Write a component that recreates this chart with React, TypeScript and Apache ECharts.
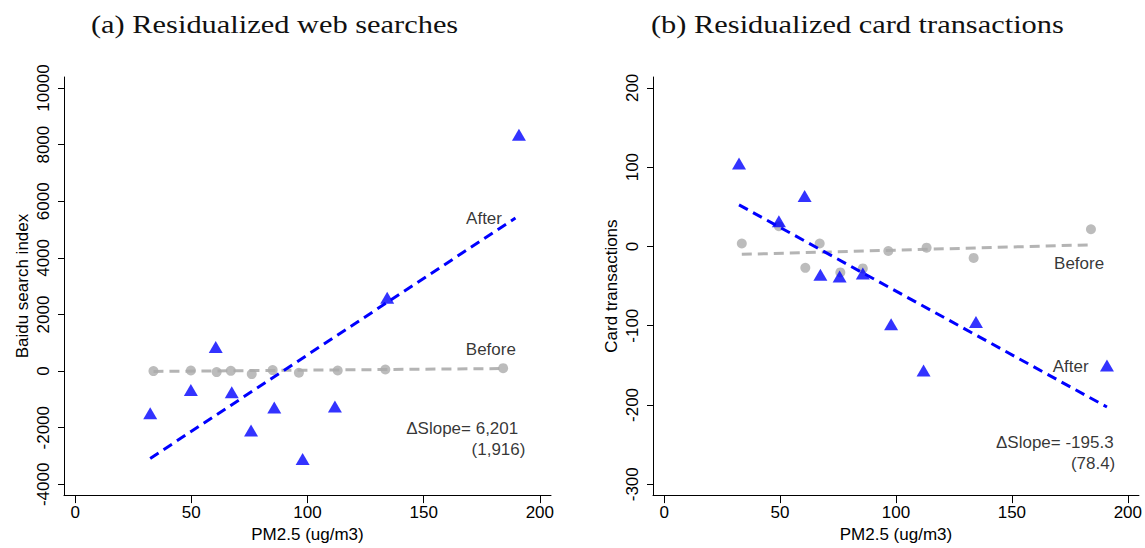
import React, { useEffect, useRef } from "react";
import * as echarts from "echarts";

// Panel (a): residualized web searches
const webBefore: [number, number][] = [
  [33.7, 0], [49.8, 21], [60.9, -35], [67.0, 10], [76.0, -105],
  [85.0, 35], [96.3, -59], [113.0, 21], [133.5, 56], [184.2, 105],
];
const webAfter: [number, number][] = [
  [32.3, -1490], [49.8, -663], [60.5, 848], [67.4, -747], [75.7, -2094],
  [85.7, -1281], [97.9, -3106], [111.8, -1246], [134.3, 2593], [191.0, 8353],
];
const webBeforeFit: [number, number][] = [[33.7, -10], [184.2, 90]];
const webAfterFit: [number, number][] = [[32.3, -3085], [189.5, 5410]];
const webNotes = [
  { name: "After", value: [183.7, 5400] },
  { name: "Before", value: [189.7, 760] },
  { name: "\u0394Slope= 6,201", value: [190.7, -2024] },
  { name: "(1,916)", value: [193.8, -2757] },
];

// Panel (b): residualized card transactions
const cardBefore: [number, number][] = [
  [33.5, 3.7], [49.5, 25.5], [60.9, -27], [67.1, 3.7], [76.0, -32.8],
  [85.7, -27.8], [96.7, -5.8], [113.2, -1.6], [133.5, -14.5], [184.1, 21.7],
];
const cardAfter: [number, number][] = [
  [32.3, 104.5], [49.5, 31.7], [60.6, 63.7], [67.4, -35.7], [75.7, -37.8],
  [85.7, -34.1], [97.9, -98.1], [111.9, -156.4], [134.5, -95.3], [191.0, -150.2],
];
const cardBeforeFit: [number, number][] = [[33.5, -10], [184.1, 2]];
const cardAfterFit: [number, number][] = [[32.3, 52.4], [191.0, -202.6]];
const cardNotes = [
  { name: "Before", value: [189.8, -22] },
  { name: "After", value: [183.1, -152] },
  { name: "\u0394Slope= -195.3", value: [193.9, -247.2] },
  { name: "(78.4)", value: [194.6, -274.2] },
];

const xTicks = [0, 50, 100, 150, 200];
const webYTicks = [-4000, -2000, 0, 2000, 4000, 6000, 8000, 10000];
const cardYTicks = [-300, -200, -100, 0, 100, 200];

const titles = ["(a) Residualized web searches", "(b) Residualized card transactions"];
const xName = "PM2.5 (ug/m3)";
const yNames = ["Baidu search index", "Card transactions"];

const FONT = '"Liberation Sans", Arial, sans-serif';
const GRAY_PT = "#ababab";
const GRAY_LN = "#b4b4b4";
const BLUE = "#0000ff";

const plain = (v: number) => String(v);

function xAxis(gridIndex: number) {
  return {
    type: "value",
    gridIndex,
    min: -4.8,
    max: 204.8,
    name: xName,
    nameLocation: "middle",
    nameGap: 29,
    nameTextStyle: { fontFamily: FONT, fontSize: 17, color: "#000" },
    axisLine: { show: true, onZero: false, lineStyle: { color: "#000", width: 1 } },
    axisTick: { show: true, length: 8, customValues: xTicks, lineStyle: { color: "#000" } },
    axisLabel: { show: true, customValues: xTicks, formatter: plain, margin: 9, fontFamily: FONT, fontSize: 17, color: "#000" },
    splitLine: { show: false },
  };
}

function yAxis(gridIndex: number, min: number, max: number, ticks: number[], name: string) {
  return {
    type: "value",
    gridIndex,
    min,
    max,
    name,
    nameLocation: "middle",
    nameGap: 33,
    nameTextStyle: { fontFamily: FONT, fontSize: 17, color: "#000" },
    axisLine: { show: true, onZero: false, lineStyle: { color: "#000", width: 1 } },
    axisTick: { show: true, length: 6, customValues: ticks, lineStyle: { color: "#000" } },
    axisLabel: { show: true, rotate: 90, customValues: ticks, formatter: plain, margin: 12, fontFamily: FONT, fontSize: 17, color: "#000" },
    splitLine: { show: false },
  };
}

function panelSeries(
  idx: number,
  before: [number, number][],
  after: [number, number][],
  beforeFit: [number, number][],
  afterFit: [number, number][],
  notes: { name: string; value: number[] }[]
) {
  return [
    {
      type: "line", xAxisIndex: idx, yAxisIndex: idx, data: beforeFit, symbol: "none",
      lineStyle: { color: GRAY_LN, width: 3, type: [10, 6] }, z: 2,
    },
    {
      type: "scatter", xAxisIndex: idx, yAxisIndex: idx, data: before, symbol: "circle", symbolSize: 10,
      itemStyle: { color: GRAY_PT }, z: 3,
    },
    {
      type: "line", xAxisIndex: idx, yAxisIndex: idx, data: afterFit, symbol: "none",
      lineStyle: { color: BLUE, width: 3, type: [10, 6] }, z: 4,
    },
    {
      type: "scatter", xAxisIndex: idx, yAxisIndex: idx, data: after, symbol: "triangle", symbolSize: [14, 12],
      itemStyle: { color: BLUE }, z: 5,
    },
    {
      type: "scatter", xAxisIndex: idx, yAxisIndex: idx, data: notes, symbolSize: 0, z: 6,
      label: {
        show: true, formatter: "{b}", position: "inside", align: "right", verticalAlign: "middle",
        fontFamily: FONT, fontSize: 17, color: "#000",
      },
    },
  ];
}

export default function App() {
  const ref = useRef<HTMLDivElement>(null);
  useEffect(() => {
    if (!ref.current) return;
    const chart = echarts.init(ref.current, null, { renderer: "svg" });
    chart.setOption({
      animation: false,
      backgroundColor: "#fff",
      grid: [
        { left: 64, top: 77, width: 487, height: 423 },
        { left: 653, top: 77, width: 488, height: 423 },
      ],
      xAxis: [xAxis(0), xAxis(1)],
      yAxis: [
        yAxis(0, -4380, 10390, webYTicks, yNames[0]),
        yAxis(1, -313.7, 213.7, cardYTicks, yNames[1]),
      ],
      graphic: [
        {
          type: "text", x: 91, y: 24, scaleX: 1.17,
          style: { text: titles[0], fontFamily: '"Liberation Serif", serif', fontSize: 26, fontWeight: "normal", fill: "#111", align: "left", verticalAlign: "middle" },
        },
        {
          type: "text", x: 651, y: 24, scaleX: 1.17,
          style: { text: titles[1], fontFamily: '"Liberation Serif", serif', fontSize: 26, fontWeight: "normal", fill: "#111", align: "left", verticalAlign: "middle" },
        },
      ],
      series: [
        ...panelSeries(0, webBefore, webAfter, webBeforeFit, webAfterFit, webNotes),
        ...panelSeries(1, cardBefore, cardAfter, cardBeforeFit, cardAfterFit, cardNotes),
      ],
    });
    return () => chart.dispose();
  }, []);
  return (
    <div
      ref={ref}
      style={{ position: "absolute", left: 0, top: 0, width: 1145, height: 548, background: "#fff" }}
    />
  );
}
